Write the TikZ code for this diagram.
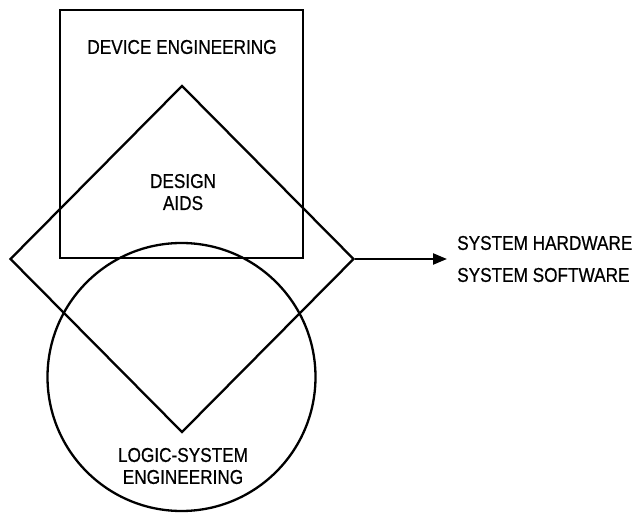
\documentclass[tikz,border=0pt]{standalone}
\usepackage{fontspec}
\setmainfont{Liberation Sans}[FakeStretch=0.86,FakeBold=0.6]
\usetikzlibrary{shapes.geometric,arrows.meta}
\begin{document}
\begin{tikzpicture}[x=1pt,y=-1pt,
  shape line/.style={draw=black,line width=2.3pt,inner sep=0pt},
  lbl/.style={font=\fontsize{20}{23}\selectfont,align=center,inner sep=0pt},
  flow/.style={line width=2.3pt,-{Triangle[length=14pt,width=11pt]}}]
\useasboundingbox (0,0) rectangle (635,513);
\node[shape line,rectangle,minimum width=243pt,minimum height=248pt] (dev) at (181.5,134) {};
\node[shape line,diamond,minimum width=344pt,minimum height=347pt] (aids) at (182,259) {};
\node[shape line,circle,minimum size=268pt] (logic) at (181.5,377) {};
\node[lbl] (tdev) at (182,47) {DEVICE ENGINEERING};
\node[lbl,text depth=0pt] (taids) at (183,192) {DESIGN\\[-1pt]AIDS};
\node[lbl] (tlogic) at (183,466) {LOGIC-SYSTEM\\[-1pt]ENGINEERING};
\coordinate (tip) at (447,0);
\draw[flow] (aids.east) -- (aids.east -| tip);
\node[lbl,anchor=west] (hw) at (457,243) {SYSTEM HARDWARE};
\node[lbl,anchor=west] (sw) at (457,275) {SYSTEM SOFTWARE};
\end{tikzpicture}
\end{document}
